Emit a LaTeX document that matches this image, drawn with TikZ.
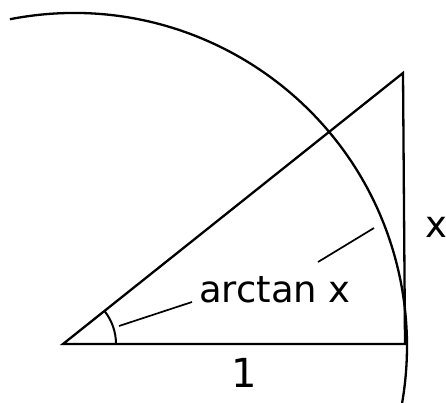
\documentclass[tikz,border=0pt]{standalone}
\usepackage{fontspec}
\setmainfont{DejaVu Sans}
\usetikzlibrary{calc}

\begin{document}
\begin{tikzpicture}[
    x=1pt, y=1pt,
    edge/.style={line width=2.3pt, line join=miter},
    leader/.style={line width=1.7pt},
    lbl/.style={anchor=base, inner sep=0pt, font=\fontsize{37}{44}\selectfont}
]
    \useasboundingbox (0,0) rectangle (446,402);
    \clip (0,0) rectangle (446,402);

    % 三角形的顶点
    \coordinate (O) at (63,58);
    \coordinate (B) at (405,58);
    \coordinate (C) at (403,329);
    \coordinate (M) at (74,56);

    \draw[edge] (O) -- (B) -- (C) -- cycle;
    \draw[edge] (M) ++(101.1:333pt) arc[start angle=101.1, end angle=-14, radius=333pt];
    \draw[line width=2pt] (O) ++(53pt,0) arc[start angle=0, end angle=38.6, radius=53pt];

    % 标注
    \node[lbl] (ang) at (275,100) {arctan x};
    \node[lbl] (side) at (436,165) {x};
    \node[lbl, font=\fontsize{40}{48}\selectfont] (one) at (244,15) {1};

    \coordinate (p1) at (119,76);
    \coordinate (p2) at (192,100);
    \coordinate (q1) at (318,140);
    \coordinate (q2) at (374,174);
    \draw[leader] (p1) -- (p2);
    \draw[leader] (q1) -- (q2);
\end{tikzpicture}
\end{document}
